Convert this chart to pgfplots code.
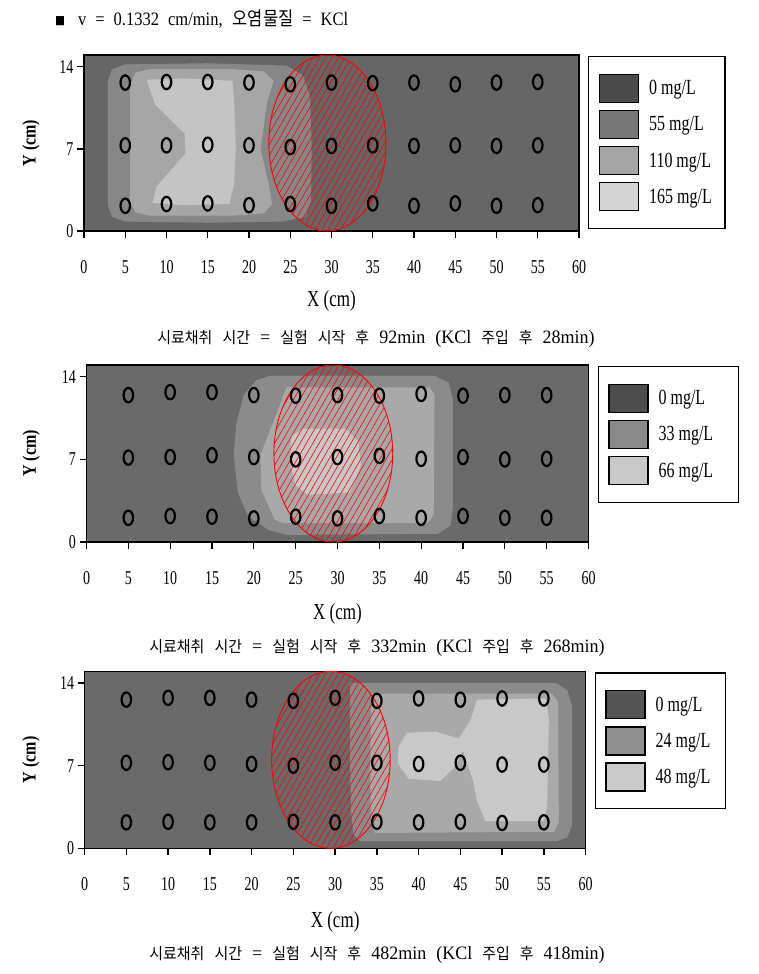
\documentclass[border=0pt]{standalone}
\usepackage{fontspec}
\setmainfont{Liberation Serif}
\newfontfamily\kr{Noto Sans CJK KR}
\usepackage{graphicx}
\usepackage{pgfplots}
\pgfplotsset{compat=1.18}
\usetikzlibrary{patterns.meta}

% the reference text is stretched vertically
\newcommand\st[2][1.4]{\scalebox{1}[#1]{#2}}
\newcommand\K[1]{{\kr\fontsize{15}{17}\selectfont #1}}
\newcommand\gap{\hspace{10pt}}
\newcommand\capt[2]{\st[1.05]{\fontsize{18}{20}\selectfont\K{시료채취}\gap\K{시간}\gap=\gap\K{실험}\gap\K{시작}\gap\K{후}\gap #1min\gap(KCl\gap\K{주입}\gap\K{후}\gap #2min)}}

% plot fills
\definecolor{bgA}{HTML}{666666}\definecolor{mA}{HTML}{878787}
\definecolor{lA}{HTML}{A6A6A6}\definecolor{llA}{HTML}{C4C4C4}
\definecolor{bgB}{HTML}{6A6A6A}\definecolor{mB}{HTML}{8B8B8B}
\definecolor{lB}{HTML}{A9A9A9}\definecolor{llB}{HTML}{C8C8C8}
% legend swatches
\definecolor{a0}{HTML}{4A4A4A}\definecolor{a1}{HTML}{777777}
\definecolor{a2}{HTML}{A4A4A4}\definecolor{a3}{HTML}{D4D4D4}
\definecolor{b0}{HTML}{4D4D4D}\definecolor{b1}{HTML}{8A8A8A}\definecolor{b2}{HTML}{C9C9C9}
\definecolor{c0}{HTML}{555555}\definecolor{c1}{HTML}{8F8F8F}\definecolor{c2}{HTML}{CBCBCB}

\tikzset{
  hatch/.style={pattern={Lines[angle=60, distance=5.5pt, line width=0.6pt]},
    pattern color=red, draw=red, line width=0.9pt},
}

\pgfplotsset{
  panel/.style={
    scale only axis, anchor=south west,
    xmin=0, xmax=60, ymin=0, ymax=15,
    xtick={0,5,...,60}, ytick={0,7,14},
    tick pos=left, tick align=outside, major tick length=7pt,
    axis line style={line width=1.4pt},
    tick style={line width=1.3pt, black},
    xticklabel={\st{\pgfmathprintnumber[assume math mode=true]{\tick}}},
    yticklabel={\st{\pgfmathprintnumber[assume math mode=true]{\tick}}},
    tick label style={font=\fontsize{14}{16}\selectfont},
    xticklabel style={anchor=center, yshift=-29pt},
    xlabel={\st[1.35]{X (cm)}},
    ylabel={\st[1.2]{\textbf{Y (cm)}}},
    xlabel style={font=\fontsize{17}{20}\selectfont, anchor=center},
    ylabel style={font=\fontsize{16}{18}\selectfont, anchor=center},
    legend image code/.code={\fill[##1] (0pt,-14pt) rectangle (39pt,14pt); \path (49pt,0pt);},
    legend style={draw=black, line width=1.4pt, at={(1,1)}, anchor=north west,
      xshift=9pt, yshift=-1pt, font=\fontsize{16}{18}\selectfont,
      nodes={inner sep=0pt}, row sep=6.7pt, inner xsep=10pt, inner ysep=17pt},
    legend cell align=left,
  },
  samp/.style={only marks, mark=o, mark size=7.2pt,
    mark options={xscale=0.66, line width=2.2pt, draw=black}},
  zone/.style={fill=#1, draw=none},
}

\pgfplotstableread{
x   y
5   12.65
10  12.7
15  12.7
20  12.65
25  12.5
30  12.65
35  12.6
40  12.65
45  12.5
50  12.65
55  12.7
5   7.3
10  7.3
15  7.35
20  7.3
25  7.15
30  7.25
35  7.3
40  7.25
45  7.3
50  7.25
55  7.3
5   2.15
10  2.3
15  2.35
20  2.2
25  2.3
30  2.15
35  2.35
40  2.15
45  2.35
50  2.15
55  2.2
}\sampA

\pgfplotstableread{
x   y
5   12.45
10  12.7
15  12.7
20  12.45
25  12.4
30  12.45
35  12.4
40  12.55
45  12.4
50  12.45
55  12.45
5   7.15
10  7.2
15  7.35
20  7.2
25  7.0
30  7.2
35  7.3
40  7.05
45  7.2
50  7.0
55  7.05
5   2.05
10  2.2
15  2.15
20  2.0
25  2.15
30  2.0
35  2.2
40  2.05
45  2.2
50  2.05
55  2.05
}\sampB

\pgfplotstableread{
x   y
5   12.6
10  12.75
15  12.75
20  12.6
25  12.5
30  12.75
35  12.5
40  12.7
45  12.6
50  12.7
55  12.7
5   7.25
10  7.3
15  7.25
20  7.15
25  7.0
30  7.25
35  7.25
40  7.15
45  7.25
50  7.1
55  7.1
5   2.2
10  2.25
15  2.2
20  2.2
25  2.25
30  2.2
35  2.25
40  2.2
45  2.25
50  2.15
55  2.2
}\sampC

\begin{document}
\begin{tikzpicture}
\path[use as bounding box] (0pt,0pt) rectangle (759pt,-974pt);

\node[anchor=west, inner sep=0pt] at (55pt,-19pt) {\st[1.15]{{\kr\fontsize{10}{12}\selectfont ■}\hspace{13pt}\fontsize{16.5}{18}\selectfont v\hspace{9pt}=\hspace{9pt}0.1332\hspace{9pt}cm/min,\hspace{10pt}{\kr\fontsize{16.5}{18}\selectfont 오염물질}\hspace{9pt}=\hspace{9pt}KCl}};

% ---------- panel 1 ----------
\begin{axis}[panel, at={(84pt,-231pt)}, width=495pt, height=176pt,
    axis background/.style={fill=bgA},
    xlabel style={at={(axis description cs:0.5,-0.4)}},
    ylabel style={at={(axis description cs:-0.107,0.5)}}]
\addlegendimage{fill=a0}\addlegendentry{\makebox[66pt][l]{\st[1.35]{0 mg/L}}}
\addlegendimage{fill=a1}\addlegendentry{\makebox[66pt][l]{\st[1.35]{55 mg/L}}}
\addlegendimage{fill=a2}\addlegendentry{\makebox[66pt][l]{\st[1.35]{110 mg/L}}}
\addlegendimage{fill=a3}\addlegendentry{\makebox[66pt][l]{\st[1.35]{165 mg/L}}}
\addplot[zone=mA, forget plot] coordinates {(2.9,2.2) (3.4,1.2) (5,0.8) (15,0.7) (24,0.8) (26.8,1.2) (27.5,2.5) (27.6,7) (27.4,11.5) (26.5,13.3) (24.5,14.1) (15,14.3) (5,14.2) (3.4,13.8) (2.9,12.8)};
\addplot[zone=lA, forget plot] coordinates {(5.6,2.5) (6.2,1.6) (8,1.3) (18,1.3) (21.8,1.5) (22.8,2.3) (22.4,4) (21.4,7) (22.2,11) (23,12.8) (21.8,13.6) (18,13.8) (8,13.8) (6.2,13.5) (5.6,12.5)};
\addplot[zone=llA, forget plot] coordinates {(7.6,12.9) (8.6,10.8) (12.2,8.3) (12.3,6.6) (8.8,3.8) (8.3,2.4) (12,2.2) (17.6,2.3) (18.2,4) (18.4,7.3) (18.2,11) (18.0,12.8) (12,13.0)};
\draw[hatch] (axis cs:29.5,7.5) ellipse [x radius=7.1, y radius=7.5];
\addplot[samp, forget plot] table {\sampA};
\end{axis}

% ---------- panel 2 ----------
\begin{axis}[panel, at={(86.5pt,-542pt)}, width=502pt, height=177pt,
    axis background/.style={fill=bgB},
    xlabel style={at={(axis description cs:0.5,-0.405)}},
    ylabel style={at={(axis description cs:-0.11,0.5)}}]
\addlegendimage{fill=b0}\addlegendentry{\makebox[70pt][l]{\st[1.35]{0 mg/L}}}
\addlegendimage{fill=b1}\addlegendentry{\makebox[70pt][l]{\st[1.35]{33 mg/L}}}
\addlegendimage{fill=b2}\addlegendentry{\makebox[70pt][l]{\st[1.35]{66 mg/L}}}
\addplot[zone=mB, forget plot] coordinates {(19.3,2.2) (21.8,1.0) (24,0.6) (42,0.7) (43.5,1.4) (43.8,3) (43.8,12) (43.3,13.5) (41.5,14.1) (22,14.1) (20.3,13.7) (18.8,12.5) (17.9,10) (17.6,7.4) (18.1,4.2)};
\addplot[zone=lB, forget plot] coordinates {(20.8,7.4) (20.9,4.4) (22.5,1.9) (23.5,1.6) (40.8,1.6) (41.5,2.3) (41.6,12.5) (41,13.1) (23.9,13.1) (22.5,10.5)};
\addplot[zone=llB, forget plot] coordinates {(24.3,6.8) (25,4.8) (26.5,4.0) (31.5,4.2) (32.8,6.5) (32.5,8.5) (31,9.6) (26,9.6) (24.5,9.0)};
\draw[hatch] (axis cs:29.5,7.5) ellipse [x radius=7.1, y radius=7.5];
\addplot[samp, forget plot] table {\sampB};
\end{axis}

% ---------- panel 3 ----------
\begin{axis}[panel, at={(84.6pt,-848.3pt)}, width=501pt, height=177pt,
    axis background/.style={fill=bgB},
    xlabel style={at={(axis description cs:0.5,-0.418)}},
    ylabel style={at={(axis description cs:-0.107,0.5)}}]
\addlegendimage{fill=c0}\addlegendentry{\makebox[60pt][l]{\st[1.35]{0 mg/L}}}
\addlegendimage{fill=c1}\addlegendentry{\makebox[60pt][l]{\st[1.35]{24 mg/L}}}
\addlegendimage{fill=c2}\addlegendentry{\makebox[60pt][l]{\st[1.35]{48 mg/L}}}
\addplot[zone=mB, forget plot] coordinates {(31.8,14.0) (56.5,14.0) (57.8,13.4) (58.4,12) (58.4,2) (57.8,0.9) (56.5,0.6) (33,0.6) (32.2,1.2) (31.9,3) (31.8,7)};
\addplot[zone=lB, forget plot] coordinates {(34.3,13.1) (56,13.1) (56.7,12.4) (56.8,2.2) (56.2,1.4) (34.8,1.3) (34.3,2) (34.2,7)};
\addplot[zone=llB, forget plot] coordinates {(47.0,12.6) (55.2,12.7) (55.6,11) (55.4,3.5) (55.0,2.3) (48.0,2.3) (47.0,4) (46.5,5.8) (45.3,8.3) (44.2,6.8) (42.6,5.7) (38.8,5.9) (37.5,7.2) (37.6,8.6) (38.6,9.8) (42,9.9) (44.8,9.3) (46.2,10.8)};
\draw[hatch] (axis cs:29.5,7.5) ellipse [x radius=7.1, y radius=7.5];
\addplot[samp, forget plot] table {\sampC};
\end{axis}

% captions
\node[inner sep=0pt] at (376pt,-339pt) {\capt{92}{28}};
\node[inner sep=0pt] at (377pt,-648pt) {\capt{332}{268}};
\node[inner sep=0pt] at (377pt,-955pt) {\capt{482}{418}};
\end{tikzpicture}
\end{document}
